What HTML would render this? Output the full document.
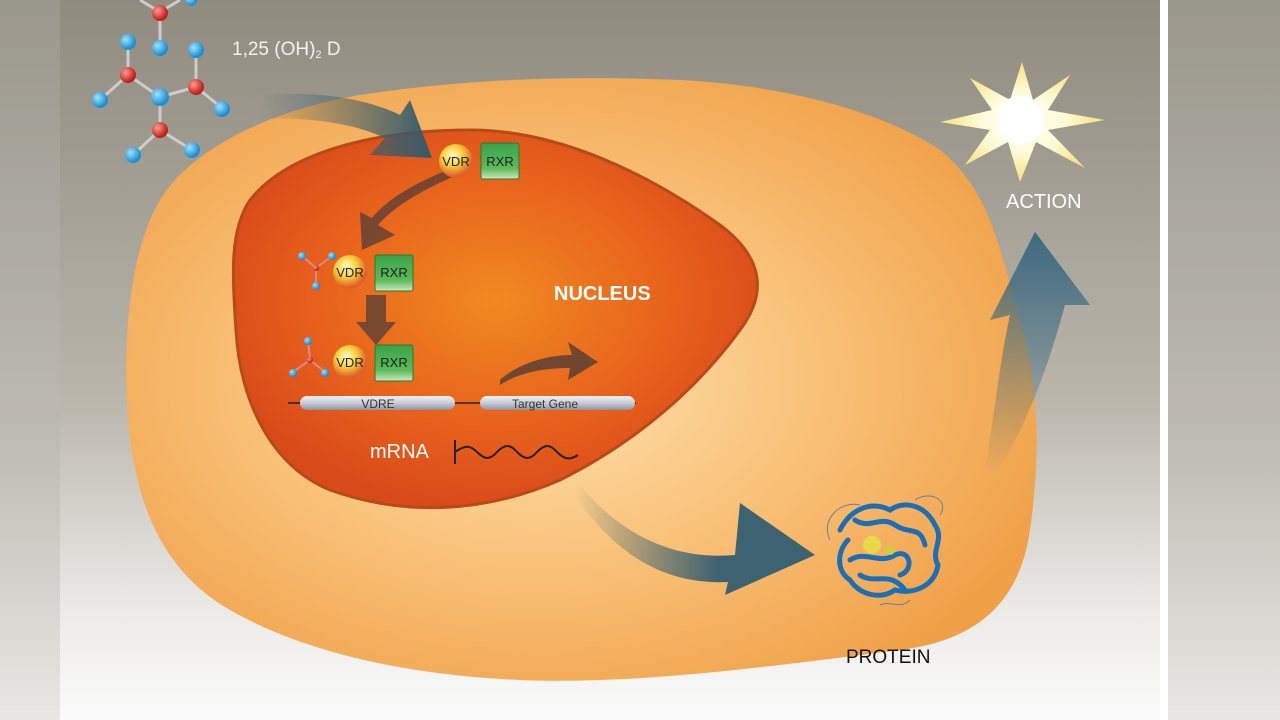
<!DOCTYPE html>
<html><head><meta charset="utf-8"><style>
html,body{margin:0;padding:0;width:1280px;height:720px;overflow:hidden;background:#fff}
</style></head><body>
<svg width="1280" height="720" viewBox="0 0 1280 720" xmlns="http://www.w3.org/2000/svg" font-family="Liberation Sans, sans-serif">
<defs>
<linearGradient id="bg" x1="0" y1="0" x2="0" y2="1">
<stop offset="0" stop-color="#8f8b7f"/><stop offset="0.55" stop-color="#b9b5ab"/><stop offset="0.85" stop-color="#ecebe8"/><stop offset="1" stop-color="#fbfbfb"/></linearGradient>
<linearGradient id="side" x1="0" y1="0" x2="0" y2="1">
<stop offset="0" stop-color="#9a978d"/><stop offset="0.6" stop-color="#bdbab2"/><stop offset="1" stop-color="#e8e7e3"/></linearGradient>
<radialGradient id="cell" cx="0.45" cy="0.5" r="0.6">
<stop offset="0" stop-color="#fde2b0"/><stop offset="0.5" stop-color="#f9c27a"/><stop offset="1" stop-color="#f0a148"/></radialGradient>
<radialGradient id="nuc" cx="0.5" cy="0.45" r="0.55">
<stop offset="0" stop-color="#f08a20"/><stop offset="0.6" stop-color="#e8621c"/><stop offset="1" stop-color="#d94a1a"/></radialGradient>
<radialGradient id="vdr" cx="0.4" cy="0.35" r="0.6">
<stop offset="0" stop-color="#fffbd0"/><stop offset="0.5" stop-color="#f6d13a"/><stop offset="1" stop-color="#e0602a"/></radialGradient>
<linearGradient id="rxr" x1="0" y1="0" x2="0" y2="1">
<stop offset="0" stop-color="#3aa24a"/><stop offset="0.7" stop-color="#5dbb5a"/><stop offset="1" stop-color="#c9e8c0"/></linearGradient>
<linearGradient id="bar" x1="0" y1="0" x2="0" y2="1">
<stop offset="0" stop-color="#f2f3f6"/><stop offset="0.5" stop-color="#c8ccd6"/><stop offset="1" stop-color="#8e93a0"/></linearGradient>
<radialGradient id="sun" cx="0.5" cy="0.5" r="0.5">
<stop offset="0" stop-color="#fff"/><stop offset="0.5" stop-color="#fffbd8"/><stop offset="1" stop-color="#f4e27a"/></radialGradient>
<radialGradient id="blue" cx="0.35" cy="0.35" r="0.6"><stop offset="0" stop-color="#9fe2ff"/><stop offset="1" stop-color="#1a8ed0"/></radialGradient>
<radialGradient id="red" cx="0.35" cy="0.35" r="0.6"><stop offset="0" stop-color="#ff9a90"/><stop offset="1" stop-color="#c0201a"/></radialGradient>
<linearGradient id="arr1" x1="0" y1="0" x2="1" y2="0"><stop offset="0" stop-color="#3a5e6e" stop-opacity="0"/><stop offset="1" stop-color="#355a6a"/></linearGradient>
<linearGradient id="arr2" x1="0" y1="0" x2="1" y2="0"><stop offset="0" stop-color="#3d6272" stop-opacity="0"/><stop offset="0.6" stop-color="#3d6272"/></linearGradient>
<linearGradient id="arr3" x1="0" y1="1" x2="0" y2="0"><stop offset="0" stop-color="#3d6a80" stop-opacity="0"/><stop offset="1" stop-color="#3d6a80"/></linearGradient>
</defs>
<rect width="1280" height="720" fill="url(#side)"/>
<rect x="60" y="0" width="1103" height="720" fill="url(#bg)"/>
<rect x="1160" y="0" width="8" height="720" fill="#fff"/>
<!-- cell -->
<path d="M160 200 C190 150 270 110 360 95 C460 80 560 75 680 80 C780 85 880 110 940 150 C990 190 1000 250 1020 320 C1040 390 1040 460 1030 530 C1020 600 980 640 900 650 C780 665 640 685 520 680 C400 675 300 650 230 610 C160 570 135 500 128 420 C122 340 130 250 160 200 Z" fill="url(#cell)"/>
<!-- nucleus -->
<path d="M250 200 C290 150 380 130 470 130 C560 130 650 175 720 225 C760 255 770 290 740 330 C700 385 640 440 560 480 C480 515 400 515 330 490 C270 465 240 400 236 330 C232 270 230 230 250 200 Z" fill="url(#nuc)" stroke="#b84a18" stroke-width="3"/>
<text x="554" y="300" font-size="20" font-weight="bold" fill="#fff">NUCLEUS</text>
<!-- arrows -->
<path d="M260 95 C320 90 370 100 400 115 L410 100 L432 158 L370 155 L385 138 C350 122 310 118 260 118 Z" fill="url(#arr1)"/>
<path d="M470 170 C430 185 395 205 378 225 L395 235 L362 250 L360 212 L372 218 C390 195 430 175 470 162 Z" fill="#5b4034" opacity="0.8"/>
<path d="M366 295 L386 295 L386 322 L396 322 L376 345 L356 322 L366 322 Z" fill="#5b4034" opacity="0.8"/>
<path d="M500 380 C520 362 550 355 572 355 L568 342 L598 362 L568 380 L570 368 C545 368 520 372 500 385 Z" fill="#5b4034" opacity="0.85"/>
<path d="M580 485 C625 540 680 560 735 555 L740 503 L815 555 L725 595 L728 582 C665 585 615 555 575 495 Z" fill="url(#arr2)"/>
<path d="M985 470 C995 410 1000 360 1010 315 L990 320 L1035 232 L1090 305 L1065 305 C1050 360 1030 420 995 475 Z" fill="url(#arr3)"/>
<!-- VDR/RXR groups -->
<g font-size="13" fill="#222">
<circle cx="456" cy="161" r="17" fill="url(#vdr)"/><text x="456" y="166" text-anchor="middle">VDR</text>
<rect x="481" y="143" width="38" height="36" rx="2" fill="url(#rxr)" stroke="#2a7a30"/><text x="500" y="166" text-anchor="middle">RXR</text>
<circle cx="350" cy="272" r="17" fill="url(#vdr)"/><text x="350" y="277" text-anchor="middle">VDR</text>
<rect x="375" y="255" width="38" height="36" rx="2" fill="url(#rxr)" stroke="#2a7a30"/><text x="394" y="277" text-anchor="middle">RXR</text>
<circle cx="350" cy="362" r="17" fill="url(#vdr)"/><text x="350" y="367" text-anchor="middle">VDR</text>
<rect x="375" y="345" width="38" height="36" rx="2" fill="url(#rxr)" stroke="#2a7a30"/><text x="394" y="367" text-anchor="middle">RXR</text>
</g>
<!-- small molecules -->
<g stroke="#d88" stroke-width="2">
<line x1="302" y1="256" x2="316" y2="268"/><line x1="332" y1="256" x2="316" y2="268"/><line x1="316" y1="268" x2="316" y2="286"/>
<line x1="308" y1="341" x2="310" y2="360"/><line x1="293" y1="372" x2="310" y2="360"/><line x1="325" y1="372" x2="310" y2="360"/>
</g>
<g fill="url(#blue)"><circle cx="302" cy="256" r="4"/><circle cx="332" cy="256" r="4"/><circle cx="316" cy="286" r="4"/><circle cx="308" cy="341" r="4"/><circle cx="293" cy="373" r="4"/><circle cx="325" cy="373" r="4"/></g>
<circle cx="316" cy="268" r="3" fill="url(#red)"/><circle cx="310" cy="360" r="3" fill="url(#red)"/>
<!-- DNA bars -->
<line x1="288" y1="403" x2="636" y2="403" stroke="#222" stroke-width="1.5"/>
<rect x="300" y="396" width="155" height="14" rx="7" fill="url(#bar)"/>
<rect x="480" y="396" width="155" height="14" rx="7" fill="url(#bar)"/>
<text x="378" y="408" font-size="12" text-anchor="middle" fill="#333">VDRE</text>
<text x="545" y="408" font-size="12" text-anchor="middle" fill="#333">Target Gene</text>
<text x="370" y="458" font-size="20" fill="#fff">mRNA</text>
<path d="M455 440 L455 464 M455 452 C465 445 470 445 477 452 C485 460 490 460 497 452 C505 444 510 444 517 452 C525 460 530 460 537 452 C545 444 550 444 557 452 C565 460 570 460 578 455" fill="none" stroke="#222" stroke-width="2"/>
<!-- big molecule -->
<g stroke="#ccc" stroke-width="3">
<line x1="160" y1="12" x2="160" y2="45"/><line x1="128" y1="42" x2="128" y2="75"/><line x1="128" y1="75" x2="100" y2="100"/><line x1="128" y1="75" x2="160" y2="97"/><line x1="160" y1="97" x2="196" y2="87"/><line x1="196" y1="87" x2="196" y2="50"/><line x1="196" y1="87" x2="222" y2="108"/><line x1="160" y1="97" x2="160" y2="130"/><line x1="160" y1="130" x2="133" y2="155"/><line x1="160" y1="130" x2="192" y2="150"/><line x1="160" y1="12" x2="180" y2="0"/><line x1="160" y1="12" x2="140" y2="0"/>
</g>
<g fill="url(#blue)"><circle cx="160" cy="48" r="8"/><circle cx="128" cy="42" r="8"/><circle cx="196" cy="50" r="8"/><circle cx="100" cy="100" r="8"/><circle cx="160" cy="97" r="9"/><circle cx="222" cy="109" r="8"/><circle cx="133" cy="155" r="8"/><circle cx="192" cy="150" r="8"/><circle cx="191" cy="0" r="6"/></g>
<g fill="url(#red)"><circle cx="160" cy="13" r="8"/><circle cx="128" cy="75" r="8"/><circle cx="196" cy="87" r="8"/><circle cx="160" cy="130" r="8"/></g>
<text x="232" y="55" font-size="19" fill="#f4f2ee">1,25 (OH)<tspan font-size="11" dy="3">2</tspan><tspan dy="-3"> D</tspan></text>
<!-- sun -->
<polygon points="1022,62 1033,100 1070,75 1048,110 1105,120 1048,130 1085,168 1036,142 1020,182 1008,142 965,165 990,130 940,122 992,110 970,78 1010,100" fill="url(#sun)"/>
<circle cx="1020" cy="120" r="24" fill="#fff"/>
<text x="1006" y="208" font-size="20" fill="#fff">ACTION</text>
<!-- protein -->
<g fill="none" stroke="#1a6fb8" stroke-width="5" stroke-linecap="round">
<path d="M840 530 C850 510 870 500 890 510 C905 500 925 505 935 525 C945 540 930 550 938 565 C935 585 915 595 895 590 C880 600 860 595 850 580 C835 570 838 550 848 540"/>
<path d="M855 520 C870 530 880 515 895 525 C910 535 920 525 925 545 M850 560 C865 550 880 565 895 555 C910 548 915 570 900 575 M860 575 C875 585 890 570 905 590"/>
</g>
<g fill="none" stroke="#6a7fa0" stroke-width="1"><path d="M830 540 C820 520 840 500 860 505 M940 515 C950 500 930 490 915 500 M880 605 C890 600 900 610 910 600"/></g>
<circle cx="872" cy="545" r="9" fill="#e8d84a"/>
<circle cx="890" cy="550" r="5" fill="#d7c840"/>
<text x="846" y="663" font-size="19" fill="#111">PROTEIN</text>
</svg>
</body></html>
